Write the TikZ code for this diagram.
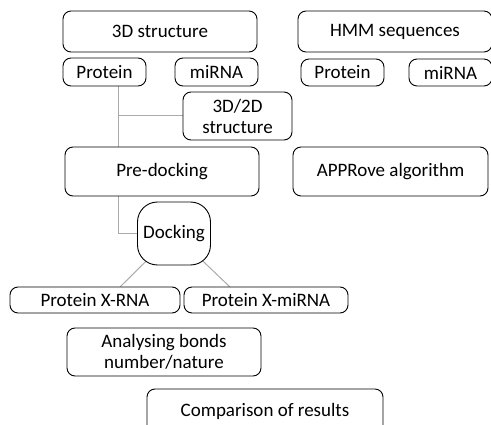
\documentclass[tikz,border=0pt]{standalone}
\usepackage{fontspec}
\setmainfont{Carlito}
\pgfdeclarelayer{background}
\pgfsetlayers{background,main}
\begin{document}
\begin{tikzpicture}[x=1pt,y=-1pt,
  box/.style={draw=black,line width=0.9pt,rounded corners=8pt,fill=white,
    align=center,inner sep=0pt,font=\fontsize{19}{21}\selectfont},
  conn/.style={draw=black!33,line width=1pt}]
\clip (0,0) rectangle (491,425);
% left column
\node[box,minimum width=194pt,minimum height=41pt] (s3d) at (160,31.5) {3D structure};
\node[box,minimum width=83pt,minimum height=28pt] (p1) at (104.5,72) {Protein};
\node[box,minimum width=83pt,minimum height=28pt] (m1) at (216.5,72) {miRNA};
\node[box,minimum width=109pt,minimum height=48pt] (s32) at (237.5,116) {3D/2D\\structure};
\node[box,minimum width=194pt,minimum height=49pt] (pre) at (162,171.5) {Pre-docking};
\node[box,rounded corners=20pt,minimum width=73pt,minimum height=63pt] (dock) at (174,233.5) {Docking};
\node[box,minimum width=170pt,minimum height=26pt] (pxr) at (95,300) {Protein X-RNA};
\node[box,minimum width=164pt,minimum height=26pt] (pxm) at (266,300) {Protein X-miRNA};
\node[box,minimum width=194pt,minimum height=48pt] (ana) at (164,352) {Analysing bonds\\number/nature};
\node[box,minimum width=236pt,minimum height=44pt] (comp) at (265,411) {Comparison of results};
% right column
\node[box,minimum width=194pt,minimum height=41pt] (hmm) at (395,31.5) {HMM sequences};
\node[box,minimum width=83pt,minimum height=27pt] (p2) at (342.5,72.5) {Protein};
\node[box,minimum width=83pt,minimum height=27pt] (m2) at (450.5,72.5) {miRNA};
\node[box,minimum width=195pt,minimum height=49pt] (app) at (390.5,171.5) {APPRove algorithm};
% connectors
\coordinate (j1) at (118.5,116);
\coordinate (dl) at (120,287);
\coordinate (dr) at (230,287);
\begin{pgfonlayer}{background}
\fill[white] (0,0) rectangle (491,425);
\draw[conn] (p1.south -| j1) -- (pre.north -| j1);
\draw[conn] (j1) -- (s32.west);
\draw[conn] (pre.south -| j1) |- (dock.center);
\draw[conn] (dl) -- (dock.center);
\draw[conn] (dr) -- (dock.center);
\end{pgfonlayer}
\end{tikzpicture}
\end{document}
